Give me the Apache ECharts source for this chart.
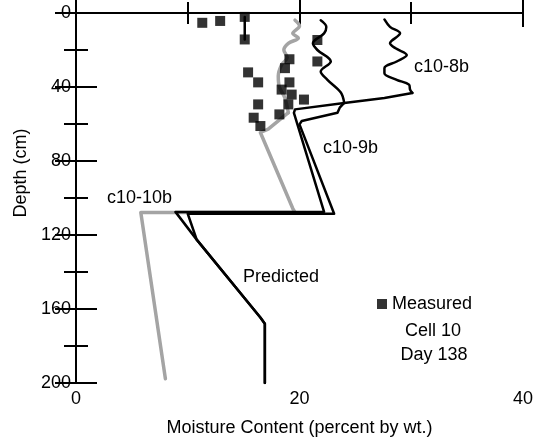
<!DOCTYPE html>
<html>
<head>
<meta charset="utf-8">
<script src="https://cdn.jsdelivr.net/npm/echarts@6/dist/echarts.min.js"></script>
<style>
  html, body { margin: 0; padding: 0; background: #fff; }
  #chart { width: 536px; height: 442px; }
</style>
</head>
<body>
<div id="chart"></div>
<script>
// Moisture content (percent by wt.) versus depth (cm), Cell 10, Day 138

// Measured samples: [moisture %, depth cm]
const measured = [
  [11.3, 5.3], [12.9, 4.3], [15.1, 2.1], [15.1, 14.3],
  [15.4, 32.1], [16.3, 37.5], [19.1, 25.0], [18.7, 29.8],
  [19.1, 37.5], [18.4, 41.4], [19.3, 44.1], [20.4, 46.8],
  [19.0, 49.4], [16.3, 49.4], [18.2, 54.8], [15.9, 56.6],
  [16.5, 61.1], [21.6, 14.6], [21.6, 26.2]
];
// Two shallow samples at the same moisture joined by a depth bar
const measuredBar = [[15.1, 2.1], [15.1, 14.3]];

// Profile c10-8b: wavy upper part, then the angular lower part
const c108bUpper = [
  [27.6, 3.5], [28.1, 7.5], [29.0, 11.0], [28.1, 16.4], [28.6, 19.1],
  [29.6, 22.7], [28.7, 26.2], [27.6, 29.8], [27.6, 32.5], [28.7, 36.1],
  [29.8, 38.7], [29.9, 41.5], [30.1, 43.2]
];
const c108bLower = [
  [30.1, 43.2], [27.6, 45.9], [24.0, 48.6], [19.6, 52.1], [19.5, 54.0],
  [22.2, 107.5], [8.9, 107.5], [10.8, 122.5], [16.5, 164.6], [16.9, 168.0],
  [16.9, 200]
];

// Profile c10-9b
const c109bUpper = [
  [21.9, 3.9], [22.4, 7.5], [22.2, 11.0], [21.2, 16.4], [21.6, 20.0],
  [22.8, 26.2], [21.9, 31.6], [22.5, 36.1], [23.7, 43.0], [24.0, 48.6]
];
const c109bLower = [
  [24.0, 48.6], [23.6, 51.2], [23.4, 53.9], [20.2, 58.4], [20.0, 60.2],
  [23.1, 108.5], [10.0, 108.5], [10.8, 122.5], [16.5, 164.6], [16.9, 168.0],
  [16.9, 200]
];

// Profile c10-10b
const c1010bUpper = [
  [19.6, 3.9], [20.0, 7.0], [19.4, 11.0], [19.9, 13.5], [19.0, 16.4],
  [18.6, 20.0], [18.9, 24.0], [18.4, 28.0], [18.1, 34.0], [18.2, 40.0],
  [18.7, 46.0], [19.0, 53.9]
];
const c1010bLower = [
  [19.0, 53.9], [17.2, 62.8], [16.5, 64.6], [19.4, 105.7], [19.6, 107.8],
  [5.8, 107.8], [8.0, 197.7]
];

const xTicks = [0, 20, 40];
const yTicks = [0, 40, 80, 120, 160, 200];

const FONT = "'Liberation Sans', Arial, Helvetica, sans-serif";
const BLACK = '#000';
const GRAY = '#a4a4a4';

const chart = echarts.init(document.getElementById('chart'), null, { renderer: 'canvas' });

function lineSeries(name, data, color, width, smooth) {
  return {
    name: name, type: 'line', data: data, xAxisIndex: 0, yAxisIndex: 0,
    showSymbol: false, symbol: 'none', smooth: smooth ? 0.35 : false,
    lineStyle: { color: color, width: width, cap: 'round', join: 'round' },
    z: 2, silent: true
  };
}

const axisLine = { show: true, lineStyle: { color: BLACK, width: 2 } };

chart.setOption({
  animation: false,
  backgroundColor: '#fff',
  textStyle: { fontFamily: FONT },
  grid: { left: 76, right: 9, top: 13, bottom: 56, containLabel: false },
  xAxis: [
    {
      type: 'value', position: 'bottom', min: xTicks[0], max: xTicks[xTicks.length - 1], interval: 20,
      axisLine: axisLine,
      axisTick: { show: true, inside: true, length: 16, lineStyle: { color: BLACK, width: 2 } },
      minorTick: { show: true, splitNumber: 2, length: 11, lineStyle: { color: BLACK, width: 2 } },
      splitLine: { show: false },
      axisLabel: { color: BLACK, fontSize: 18, fontFamily: FONT, margin: 7 },
      name: 'Moisture Content (percent by wt.)', nameLocation: 'middle', nameGap: 36,
      nameTextStyle: { color: BLACK, fontSize: 18, fontFamily: FONT }
    },
    {
      type: 'value', position: 'top', min: 0, max: 40, interval: 20,
      axisLine: axisLine,
      axisTick: { show: true, inside: true, length: 14, lineStyle: { color: BLACK, width: 2 } },
      minorTick: { show: true, splitNumber: 2, length: 11, lineStyle: { color: BLACK, width: 2 } },
      splitLine: { show: false }, axisLabel: { show: false }
    }
  ],
  yAxis: [
    {
      type: 'value', position: 'left', inverse: true, min: yTicks[0], max: yTicks[yTicks.length - 1], interval: 40,
      axisLine: axisLine,
      axisTick: { show: true, inside: true, length: 21, lineStyle: { color: BLACK, width: 2 } },
      minorTick: { show: true, splitNumber: 2, length: 12, lineStyle: { color: BLACK, width: 2 } },
      splitLine: { show: false },
      axisLabel: { color: BLACK, fontSize: 18, fontFamily: FONT, margin: 5 }
    },
    {
      type: 'value', position: 'right', inverse: true, min: 0, max: 200, interval: 40,
      axisLine: axisLine,
      axisTick: { show: true, inside: true, length: 21, lineStyle: { color: BLACK, width: 2 } },
      minorTick: { show: true, splitNumber: 2, length: 12, lineStyle: { color: BLACK, width: 2 } },
      splitLine: { show: false }, axisLabel: { show: false }
    }
  ],
  legend: {
    show: true, data: ['Measured'], left: 372, top: 290, icon: 'rect',
    itemWidth: 10, itemHeight: 10, itemGap: 4, selectedMode: false,
    textStyle: { color: BLACK, fontSize: 18, fontFamily: FONT }
  },
  series: [
    lineSeries('c10-10b', c1010bUpper, GRAY, 3.5, true),
    lineSeries('c10-10b-low', c1010bLower, GRAY, 3.5, false),
    lineSeries('c10-9b', c109bUpper, BLACK, 2.5, true),
    lineSeries('c10-9b-low', c109bLower, BLACK, 2.5, false),
    lineSeries('c10-8b', c108bUpper, BLACK, 2.5, true),
    lineSeries('c10-8b-low', c108bLower, BLACK, 2.5, false),
    lineSeries('measured-bar', measuredBar, BLACK, 2.5, false),
    {
      name: 'Measured', type: 'scatter', data: measured, symbol: 'rect', symbolSize: 10,
      itemStyle: { color: BLACK }, z: 3, silent: true
    }
  ],
  graphic: [
    { type: 'text', x: 21, y: 173, rotation: Math.PI / 2,
      style: { text: 'Depth (cm)', fill: BLACK, font: '18px ' + FONT, textAlign: 'center', textVerticalAlign: 'middle' } },
    { type: 'text', x: 414, y: 67, style: { text: 'c10-8b', fill: BLACK, font: '18px ' + FONT, textVerticalAlign: 'middle' } },
    { type: 'text', x: 323, y: 148, style: { text: 'c10-9b', fill: BLACK, font: '18px ' + FONT, textVerticalAlign: 'middle' } },
    { type: 'text', x: 107, y: 198, style: { text: 'c10-10b', fill: BLACK, font: '18px ' + FONT, textVerticalAlign: 'middle' } },
    { type: 'text', x: 243, y: 277, style: { text: 'Predicted', fill: BLACK, font: '18px ' + FONT, textVerticalAlign: 'middle' } },
    { type: 'text', x: 433, y: 331, style: { text: 'Cell 10', fill: BLACK, font: '18px ' + FONT, textAlign: 'center', textVerticalAlign: 'middle' } },
    { type: 'text', x: 434, y: 355, style: { text: 'Day 138', fill: BLACK, font: '18px ' + FONT, textAlign: 'center', textVerticalAlign: 'middle' } }
  ]
});
</script>
</body>
</html>
